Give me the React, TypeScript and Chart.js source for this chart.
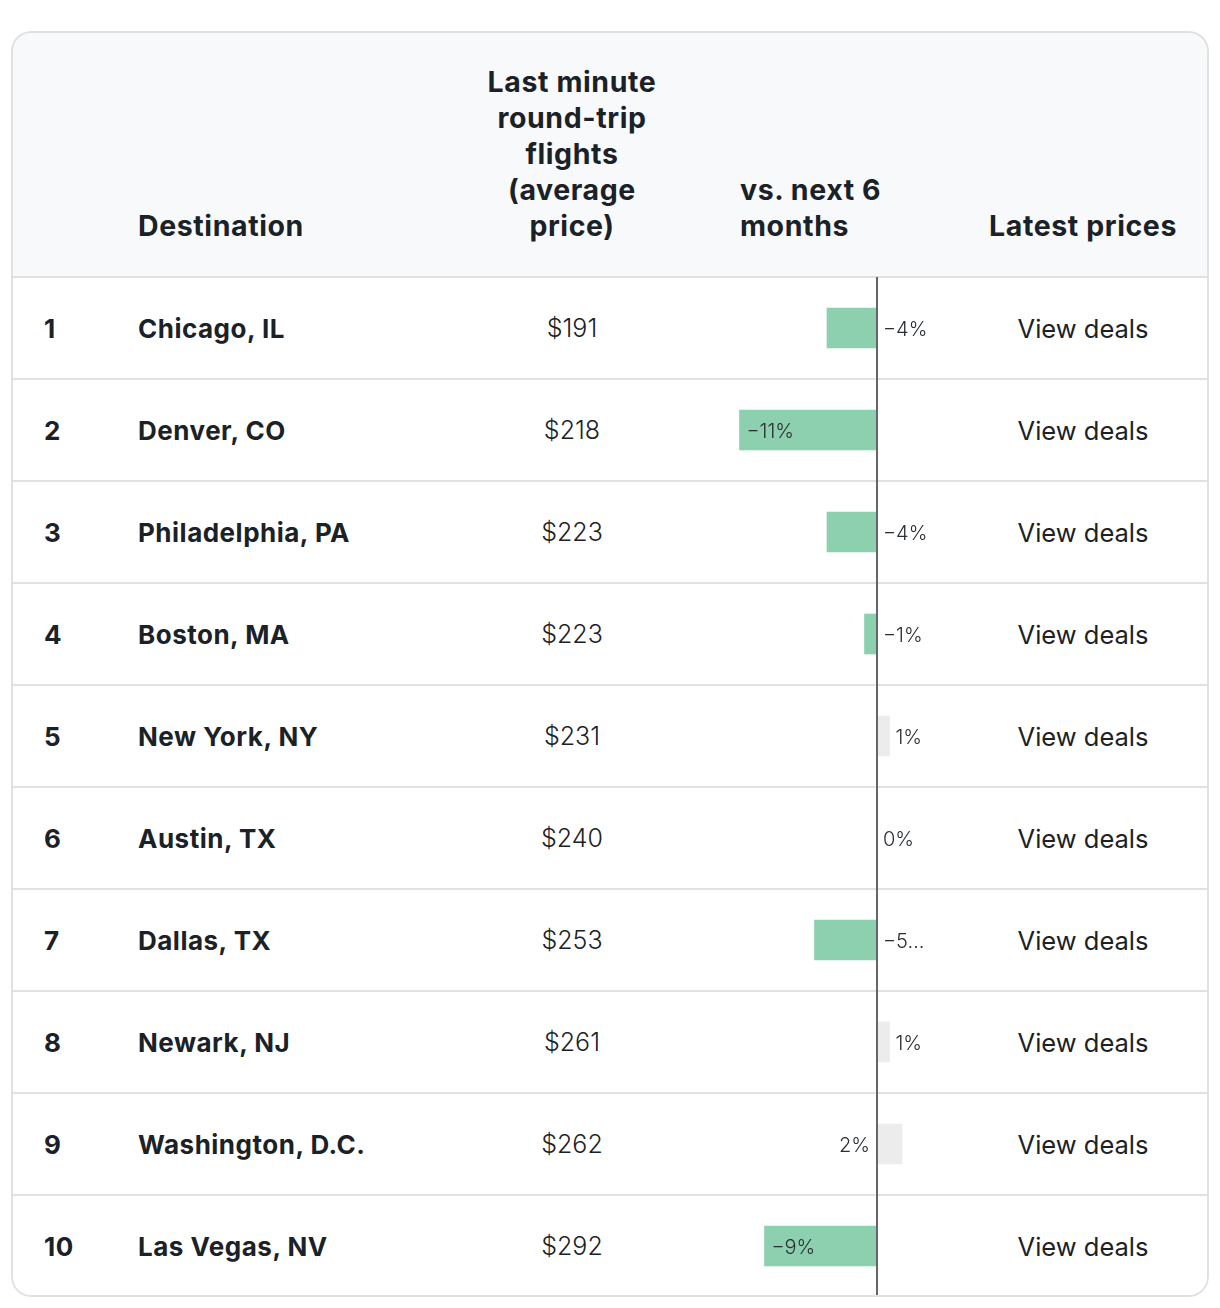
import React, { useEffect, useRef } from "react";
import { Chart, registerables } from "chart.js";

Chart.register(...registerables);

const ranks = ["1", "2", "3", "4", "5", "6", "7", "8", "9", "10"];
const destinations = [
  "Chicago, IL",
  "Denver, CO",
  "Philadelphia, PA",
  "Boston, MA",
  "New York, NY",
  "Austin, TX",
  "Dallas, TX",
  "Newark, NJ",
  "Washington, D.C.",
  "Las Vegas, NV",
];
const prices = ["$191", "$218", "$223", "$223", "$231", "$240", "$253", "$261", "$262", "$292"];
const changes = [-4, -11, -4, -1, 1, 0, -5, 1, 2, -9];
const changeLabels = ["−4%", "−11%", "−4%", "−1%", "1%", "0%", "−5…", "1%", "2%", "−9%"];
const linkText = "View deals";

const FONT = "Inter, 'Noto Sans', sans-serif";
const TEXT = "#1b2227";
const LINE = "#e1e1e1";
const HEADER_H = 246;
const ROW_H = 102;

function BarColumn() {
  const ref = useRef<HTMLCanvasElement | null>(null);
  useEffect(() => {
    if (!ref.current) return;
    const labelPlugin = {
      id: "barLabels",
      afterDatasetsDraw(chart: any) {
        const ctx = chart.ctx;
        const xs = chart.scales.x;
        const ys = chart.scales.y;
        const zero = xs.getPixelForValue(0);
        ctx.save();
        ctx.strokeStyle = "#666666";
        ctx.lineWidth = 2;
        ctx.beginPath();
        ctx.moveTo(zero, chart.chartArea.top);
        ctx.lineTo(zero, chart.chartArea.bottom);
        ctx.stroke();
        ctx.font = "300 20px " + FONT;
        ctx.fillStyle = "#2a2f33";
        ctx.textBaseline = "middle";
        changes.forEach((v, i) => {
          const y = ys.getPixelForValue(i) + 2;
          const end = xs.getPixelForValue(v);
          const txt = changeLabels[i];
          if (v <= -8) {
            ctx.textAlign = "left";
            ctx.fillText(txt, end + 7, y);
          } else if (v >= 2) {
            ctx.textAlign = "right";
            ctx.fillText(txt, zero - 7, y);
          } else {
            ctx.textAlign = "left";
            ctx.fillText(txt, Math.max(zero, end) + 6, y);
          }
        });
        ctx.restore();
      },
    };
    const chart = new Chart(ref.current, {
      type: "bar",
      data: {
        labels: destinations,
        datasets: [
          {
            data: changes,
            backgroundColor: changes.map((v) => (v < 0 ? "#8dd0b0" : "#ececec")),
            borderWidth: 0,
            barThickness: 40,
          },
        ],
      },
      options: {
        indexAxis: "y",
        animation: false,
        responsive: false,
        maintainAspectRatio: false,
        layout: { padding: 0 },
        plugins: { legend: { display: false }, tooltip: { enabled: false } },
        scales: {
          x: { display: false, min: -14, max: 6 },
          y: { display: false, offset: true },
        },
      },
      plugins: [labelPlugin],
    });
    return () => chart.destroy();
  }, []);
  return (
    <canvas
      ref={ref}
      width={250}
      height={ROW_H * 10}
      style={{ position: "absolute", left: 691, top: HEADER_H, width: 250, height: ROW_H * 10 }}
    />
  );
}

export default function App() {
  const headBold: React.CSSProperties = {
    position: "absolute",
    bottom: 33,
    fontFamily: FONT,
    fontWeight: 700,
    fontSize: 28.5,
    letterSpacing: 0.6,
    lineHeight: "36px",
    color: TEXT,
  };
  const cell: React.CSSProperties = {
    position: "absolute",
    top: 0,
    height: ROW_H - 2,
    display: "flex",
    alignItems: "center",
  };
  return (
    <div style={{ paddingTop: 23, paddingLeft: 3 }}>
      <div
        style={{
          position: "relative",
          width: 1198,
          height: 1266,
          borderRadius: 20,
          overflow: "hidden",
          background: "#ffffff",
          fontFamily: FONT,
          color: TEXT,
        }}
      >
        <div style={{ position: "absolute", left: 0, top: 0, width: 1198, height: HEADER_H, background: "#f8f9fa" }}>
          <div style={{ ...headBold, left: 127 }}>Destination</div>
          <div style={{ ...headBold, left: 451, width: 220, textAlign: "center" }}>
            Last minute
            <br />
            round-trip
            <br />
            flights
            <br />
            (average
            <br />
            price)
          </div>
          <div style={{ ...headBold, left: 729 }}>
            vs. next 6
            <br />
            months
          </div>
          <div style={{ ...headBold, left: 962, width: 220, textAlign: "center" }}>Latest prices</div>
        </div>
        {ranks.map((r, i) => (
          <div
            key={r}
            style={{
              position: "absolute",
              left: 0,
              top: HEADER_H - 1 + i * ROW_H,
              width: 1198,
              height: ROW_H,
              borderTop: `2px solid ${LINE}`,
              boxSizing: "border-box",
              fontSize: 26,
            }}
          >
            <div style={{ ...cell, left: 33, fontWeight: 700, letterSpacing: 0.5 }}>{r}</div>
            <div style={{ ...cell, left: 127, fontWeight: 700, letterSpacing: 0.5 }}>{destinations[i]}</div>
            <div style={{ ...cell, left: 461, width: 200, justifyContent: "center", fontWeight: 300, fontSize: 25 }}>
              {prices[i]}
            </div>
            <div style={{ ...cell, left: 972, width: 200, justifyContent: "center", fontWeight: 400, fontSize: 25.5 }}>
              {linkText}
            </div>
          </div>
        ))}
        <BarColumn />
        <div
          style={{
            position: "absolute",
            inset: 0,
            border: `2px solid ${LINE}`,
            borderRadius: 20,
            pointerEvents: "none",
          }}
        />
      </div>
    </div>
  );
}
